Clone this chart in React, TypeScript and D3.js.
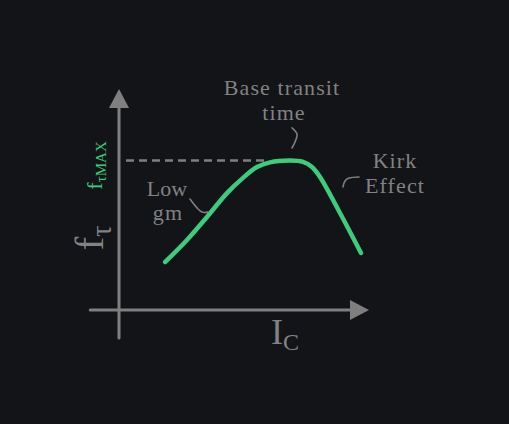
import { useEffect, useRef } from 'react';
import * as d3 from 'd3';

// f_T vs I_C sketch, data in arbitrary units (0..10 on both axes)
const curveX = [1.84, 2.72, 3.52, 4.32, 4.96, 5.52, 6.04, 6.84, 7.36, 7.72, 8.04, 8.84, 9.68];
const curveY = [2.17, 3.17, 4.21, 5.29, 5.98, 6.47, 6.68, 6.76, 6.70, 6.47, 6.02, 4.39, 2.58];

const fTmax = 6.76;
const dashStart = 0.28;
const dashEnd = 5.9;

// axis extents (origin at 0,0)
const xAxisExtent = [-1.15, 10];
const yAxisExtent = [-1.27, 10];

// small leader squiggles pointing from labels to the curve
const leaderLow = [[2.84, 5.02], [3.12, 4.62], [3.32, 4.43], [3.56, 4.43]];
const leaderBase = [[6.92, 8.24], [7.12, 7.96], [7.04, 7.6], [6.92, 7.33]];
const leaderKirk = [[8.96, 5.57], [9.04, 5.84], [9.2, 5.97], [9.6, 6.02]];

const labelText = ['Base transit', 'time', 'Kirk', 'Effect', 'Low', 'gm'];
const labelX = [6.52, 6.6, 11.04, 11.04, 1.92, 1.96];
const labelY = [9.73, 8.6, 6.43, 5.29, 5.16, 4.07];

const W = 509;
const H = 424;
const BG = '#131418';
const GRAY = '#7f7f7f';
const TEXT = '#828282';
const GREEN = '#3dcc7c';
const FONT = '"Liberation Serif", "Times New Roman", serif';

export default function App() {
  const svgRef = useRef<SVGSVGElement>(null);

  useEffect(() => {
    if (!svgRef.current) return;
    const svg = d3.select(svgRef.current);
    svg.selectAll('*').remove();

    const x = d3.scaleLinear().domain([0, 10]).range([119, 369]);
    const y = d3.scaleLinear().domain([0, 10]).range([310, 89]);

    svg.append('rect').attr('width', W).attr('height', H).attr('fill', BG);

    // axes with triangular heads
    const xEnd = x(xAxisExtent[1]);
    svg.append('line')
      .attr('x1', x(xAxisExtent[0])).attr('y1', y(0))
      .attr('x2', xEnd - 4).attr('y2', y(0))
      .attr('stroke', GRAY).attr('stroke-width', 3).attr('stroke-linecap', 'round');
    svg.append('path')
      .attr('d', `M${xEnd - 19},${y(0) - 10} L${xEnd},${y(0)} L${xEnd - 19},${y(0) + 10} Z`)
      .attr('fill', GRAY);

    const yEnd = y(yAxisExtent[1]);
    svg.append('line')
      .attr('x1', x(0)).attr('y1', y(yAxisExtent[0]))
      .attr('x2', x(0)).attr('y2', yEnd + 4)
      .attr('stroke', GRAY).attr('stroke-width', 3).attr('stroke-linecap', 'round');
    svg.append('path')
      .attr('d', `M${x(0) - 10},${yEnd + 19} L${x(0)},${yEnd} L${x(0) + 10},${yEnd + 19} Z`)
      .attr('fill', GRAY);

    // fT max dashed line
    svg.append('line')
      .attr('x1', x(dashStart)).attr('y1', y(fTmax))
      .attr('x2', x(dashEnd)).attr('y2', y(fTmax))
      .attr('stroke', GRAY).attr('stroke-width', 2.5)
      .attr('stroke-dasharray', '8,5');

    // the curve
    const pts = curveX.map((v, i) => [v, curveY[i]] as [number, number]);
    const line = d3.line<[number, number]>()
      .x(d => x(d[0]))
      .y(d => y(d[1]))
      .curve(d3.curveCatmullRom.alpha(0.5));
    svg.append('path')
      .datum(pts)
      .attr('d', line)
      .attr('fill', 'none')
      .attr('stroke', GREEN)
      .attr('stroke-width', 4.5)
      .attr('stroke-linecap', 'round')
      .attr('stroke-linejoin', 'round');

    // leaders
    const leaderLine = d3.line<number[]>()
      .x(d => x(d[0]))
      .y(d => y(d[1]))
      .curve(d3.curveCatmullRom.alpha(0.5));
    [leaderLow, leaderBase, leaderKirk].forEach(l => {
      svg.append('path')
        .datum(l)
        .attr('d', leaderLine)
        .attr('fill', 'none')
        .attr('stroke', GRAY)
        .attr('stroke-width', 1.6)
        .attr('stroke-linecap', 'round');
    });

    // annotation labels
    labelText.forEach((t, i) => {
      svg.append('text')
        .attr('x', x(labelX[i]))
        .attr('y', y(labelY[i]))
        .attr('text-anchor', 'middle')
        .style('font-family', FONT)
        .style('font-size', '22px')
        .style('letter-spacing', t === 'Low' ? '0px' : '1.1px')
        .attr('fill', TEXT)
        .text(t);
    });

    // I_C
    const ic = svg.append('text')
      .attr('x', x(6.08))
      .attr('y', y(-1.54))
      .style('font-family', FONT)
      .attr('fill', TEXT);
    ic.append('tspan').style('font-size', '36px').text('I');
    ic.append('tspan').style('font-size', '24px').attr('dy', 6).text('C');

    // f_tau (rotated y label)
    const ft = svg.append('text')
      .attr('transform', `translate(${x(-0.64)},${y(3.26)}) rotate(-90)`)
      .attr('text-anchor', 'middle')
      .style('font-family', FONT)
      .attr('fill', TEXT);
    ft.append('tspan').style('font-size', '41px').text('f');
    ft.append('tspan').style('font-size', '29px').attr('dy', 8).text('τ');

    // f_tau MAX
    const fm = svg.append('text')
      .attr('transform', `translate(${x(-0.68)},${y(6.54)}) rotate(-90)`)
      .attr('text-anchor', 'middle')
      .style('font-family', FONT)
      .attr('fill', GREEN);
    fm.append('tspan').style('font-size', '22px').text('f');
    fm.append('tspan').style('font-size', '15px').attr('dy', 4).text('τMAX');
  }, []);

  return (
    <div style={{ position: 'fixed', left: 0, top: 0, width: W, height: H, background: BG }}>
      <svg ref={svgRef} width={W} height={H} style={{ display: 'block' }} />
    </div>
  );
}
